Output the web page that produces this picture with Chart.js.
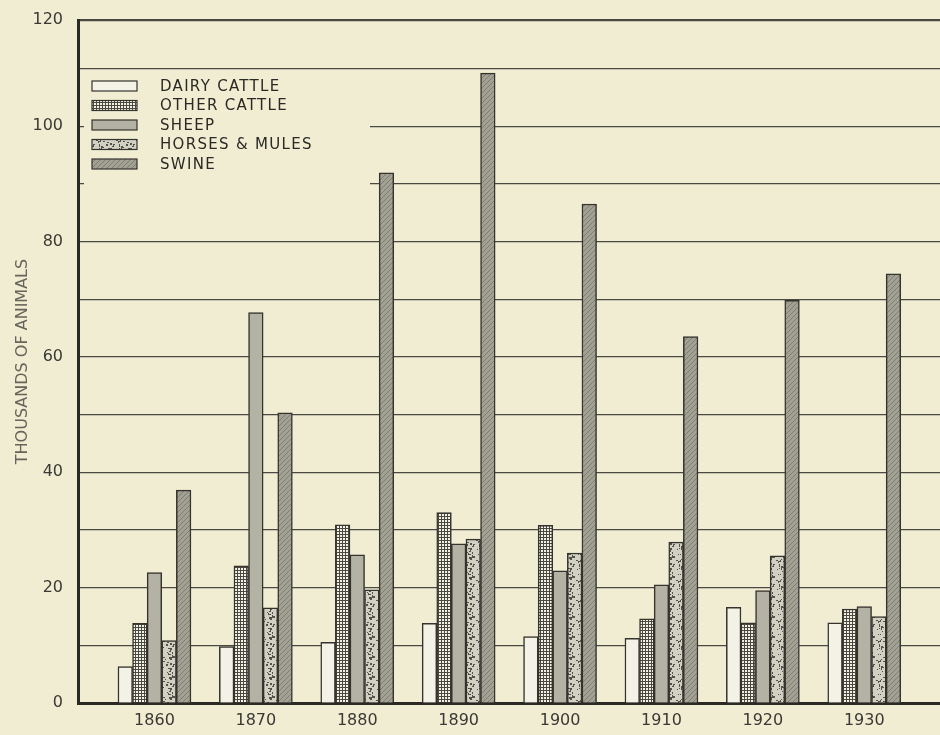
<!DOCTYPE html>
<html>
<head>
<meta charset="utf-8">
<title>Livestock 1860-1930</title>
<script src="https://cdn.jsdelivr.net/npm/chart.js@4.4.0/dist/chart.umd.min.js"></script>
<style>
  html, body { margin: 0; padding: 0; background: #f0edd3; }
  canvas { display: block; }
</style>
</head>
<body>
<canvas id="livestockChart" width="940" height="735"></canvas>
<script>
// Census years (x categories)
const years = [1860, 1870, 1880, 1890, 1900, 1910, 1920, 1930];

// Thousands of animals
const dairyCattle  = [6.3, 9.8, 10.5, 13.8, 11.5, 11.2, 16.6, 13.9];
const otherCattle  = [13.8, 23.8, 30.9, 33.0, 30.8, 14.6, 13.9, 16.3];
const sheep        = [22.6, 67.7, 25.7, 27.6, 22.9, 20.5, 19.5, 16.7];
const horsesMules  = [10.8, 16.5, 19.6, 28.4, 26.0, 27.9, 25.5, 15.0];
const swine        = [36.9, 50.3, 91.9, 109.2, 86.5, 63.5, 69.8, 74.4];

const seriesLabels = ['DAIRY CATTLE', 'OTHER CATTLE', 'SHEEP', 'HORSES & MULES', 'SWINE'];
const yTicks = [0, 20, 40, 60, 80, 100];
const yTopLabel = '120';   // printed on the top frame line of the original
const yTop = 118.4;        // where that frame line actually sits on the value scale

const BG = '#f0edd3';
const INK = '#34332d';

Chart.defaults.font.family = '"DejaVu Sans", sans-serif';

/**
 * Build a repeating canvas pattern from a small tile
 */
function makePattern(w, h, paint) {
    const c = document.createElement('canvas');
    c.width = w;
    c.height = h;
    const g = c.getContext('2d');
    paint(g, w, h);
    return g.createPattern(c, 'repeat');
}

const fills = [
    // dairy cattle - plain light
    '#f4f2e6',
    // other cattle - small white squares on dark grid
    makePattern(3, 3, function(g) {
        g.fillStyle = '#4a4940';
        g.fillRect(0, 0, 3, 3);
        g.fillStyle = '#f4f2e6';
        g.fillRect(1, 1, 2, 2);
    }),
    // sheep - flat mid grey
    '#b4b2a4',
    // horses & mules - mottled
    makePattern(20, 20, function(g) {
        g.fillStyle = '#d2d0c3';
        g.fillRect(0, 0, 20, 20);
        g.fillStyle = '#55544a';
        for (let i = 0; i < 40; i++) {
            const x = (i * 7 + (i * i) % 13) % 20;
            const y = (i * 11 + (i * i * 3) % 17) % 20;
            g.fillRect(x, y, 1 + (i % 2), 1 + (i % 3 === 0 ? 1 : 0));
        }
    }),
    // swine - darker grey with diagonal hatch
    makePattern(5, 5, function(g) {
        g.fillStyle = '#a3a194';
        g.fillRect(0, 0, 5, 5);
        g.strokeStyle = '#807e73';
        g.lineWidth = 1;
        g.beginPath();
        g.moveTo(0, 5);
        g.lineTo(5, 0);
        g.stroke();
    })
];

const seriesData = [dairyCattle, otherCattle, sheep, horsesMules, swine];

// Legend drawn inside the plot, over the grid lines
const boxLegend = {
    id: 'boxLegend',
    afterDatasetsDraw(chart) {
        const ctx = chart.ctx;
        ctx.save();
        ctx.fillStyle = BG;
        ctx.fillRect(84, 73, 286, 129);
        ctx.font = '15px "DejaVu Sans"';
        ctx.letterSpacing = '1.3px';
        ctx.textBaseline = 'middle';
        seriesLabels.forEach(function(label, i) {
            const y = 86 + i * 19.5;
            ctx.fillStyle = fills[i];
            ctx.fillRect(92, y - 5, 45, 10);
            ctx.strokeStyle = INK;
            ctx.lineWidth = 1.2;
            ctx.strokeRect(92, y - 5, 45, 10);
            ctx.fillStyle = '#2a2924';
            ctx.fillText(label, 160, y + 1);
        });
        ctx.restore();
    }
};

new Chart(document.getElementById('livestockChart'), {
    type: 'bar',
    data: {
        labels: years,
        datasets: seriesData.map(function(values, i) {
            return {
                label: seriesLabels[i],
                data: values,
                backgroundColor: fills[i],
                borderColor: INK,
                borderWidth: 1.5
            };
        })
    },
    options: {
        responsive: false,
        animation: false,
        devicePixelRatio: 1,
        barThickness: 14.6,
        layout: {
            padding: { top: 20, right: 0, bottom: 0, left: 0 }
        },
        plugins: {
            legend: { display: false },
            tooltip: { enabled: false }
        },
        scales: {
            x: {
                type: 'linear',
                offset: false,
                min: 1852.46,
                max: 1937.47,
                afterBuildTicks: function(scale) {
                    scale.ticks = years.map(function(v) { return { value: v }; });
                },
                afterFit: function(scale) {
                    scale.height = 32;
                    scale.paddingLeft = 0;
                    scale.paddingRight = 0;
                },
                grid: { display: false, drawTicks: false },
                border: { display: true, width: 3, color: '#2a2924' },
                ticks: {
                    padding: 8,
                    maxRotation: 0,
                    autoSkip: false,
                    color: '#3a3934',
                    font: { size: 16 },
                    callback: function(value) {
                        return String(value);
                    }
                }
            },
            y: {
                min: 0,
                max: yTop,
                afterBuildTicks: function(scale) {
                    // grid every 10, labels every 20, plus the top frame line
                    const t = [];
                    for (let v = 0; v <= 110; v += 10) t.push({ value: v });
                    t.push({ value: yTop });
                    scale.ticks = t;
                },
                afterFit: function(scale) {
                    scale.width = 78;
                    scale.paddingTop = 0;
                    scale.paddingBottom = 0;
                },
                grid: {
                    drawTicks: false,
                    color: '#4a4941',
                    lineWidth: function(ctx) {
                        return ctx.tick && ctx.tick.value === yTop ? 2.2 : 1.2;
                    }
                },
                border: { display: true, width: 3, color: '#2a2924' },
                ticks: {
                    padding: 15,
                    color: '#3a3934',
                    font: { size: 16 },
                    callback: function(value) {
                        if (value === yTop) return yTopLabel;
                        return yTicks.includes(value) ? String(value) : '';
                    }
                },
                title: {
                    display: true,
                    text: 'THOUSANDS OF ANIMALS',
                    color: '#66655b',
                    font: { size: 16 },
                    padding: { top: 13 }
                }
            }
        }
    },
    plugins: [boxLegend]
});
</script>
</body>
</html>
